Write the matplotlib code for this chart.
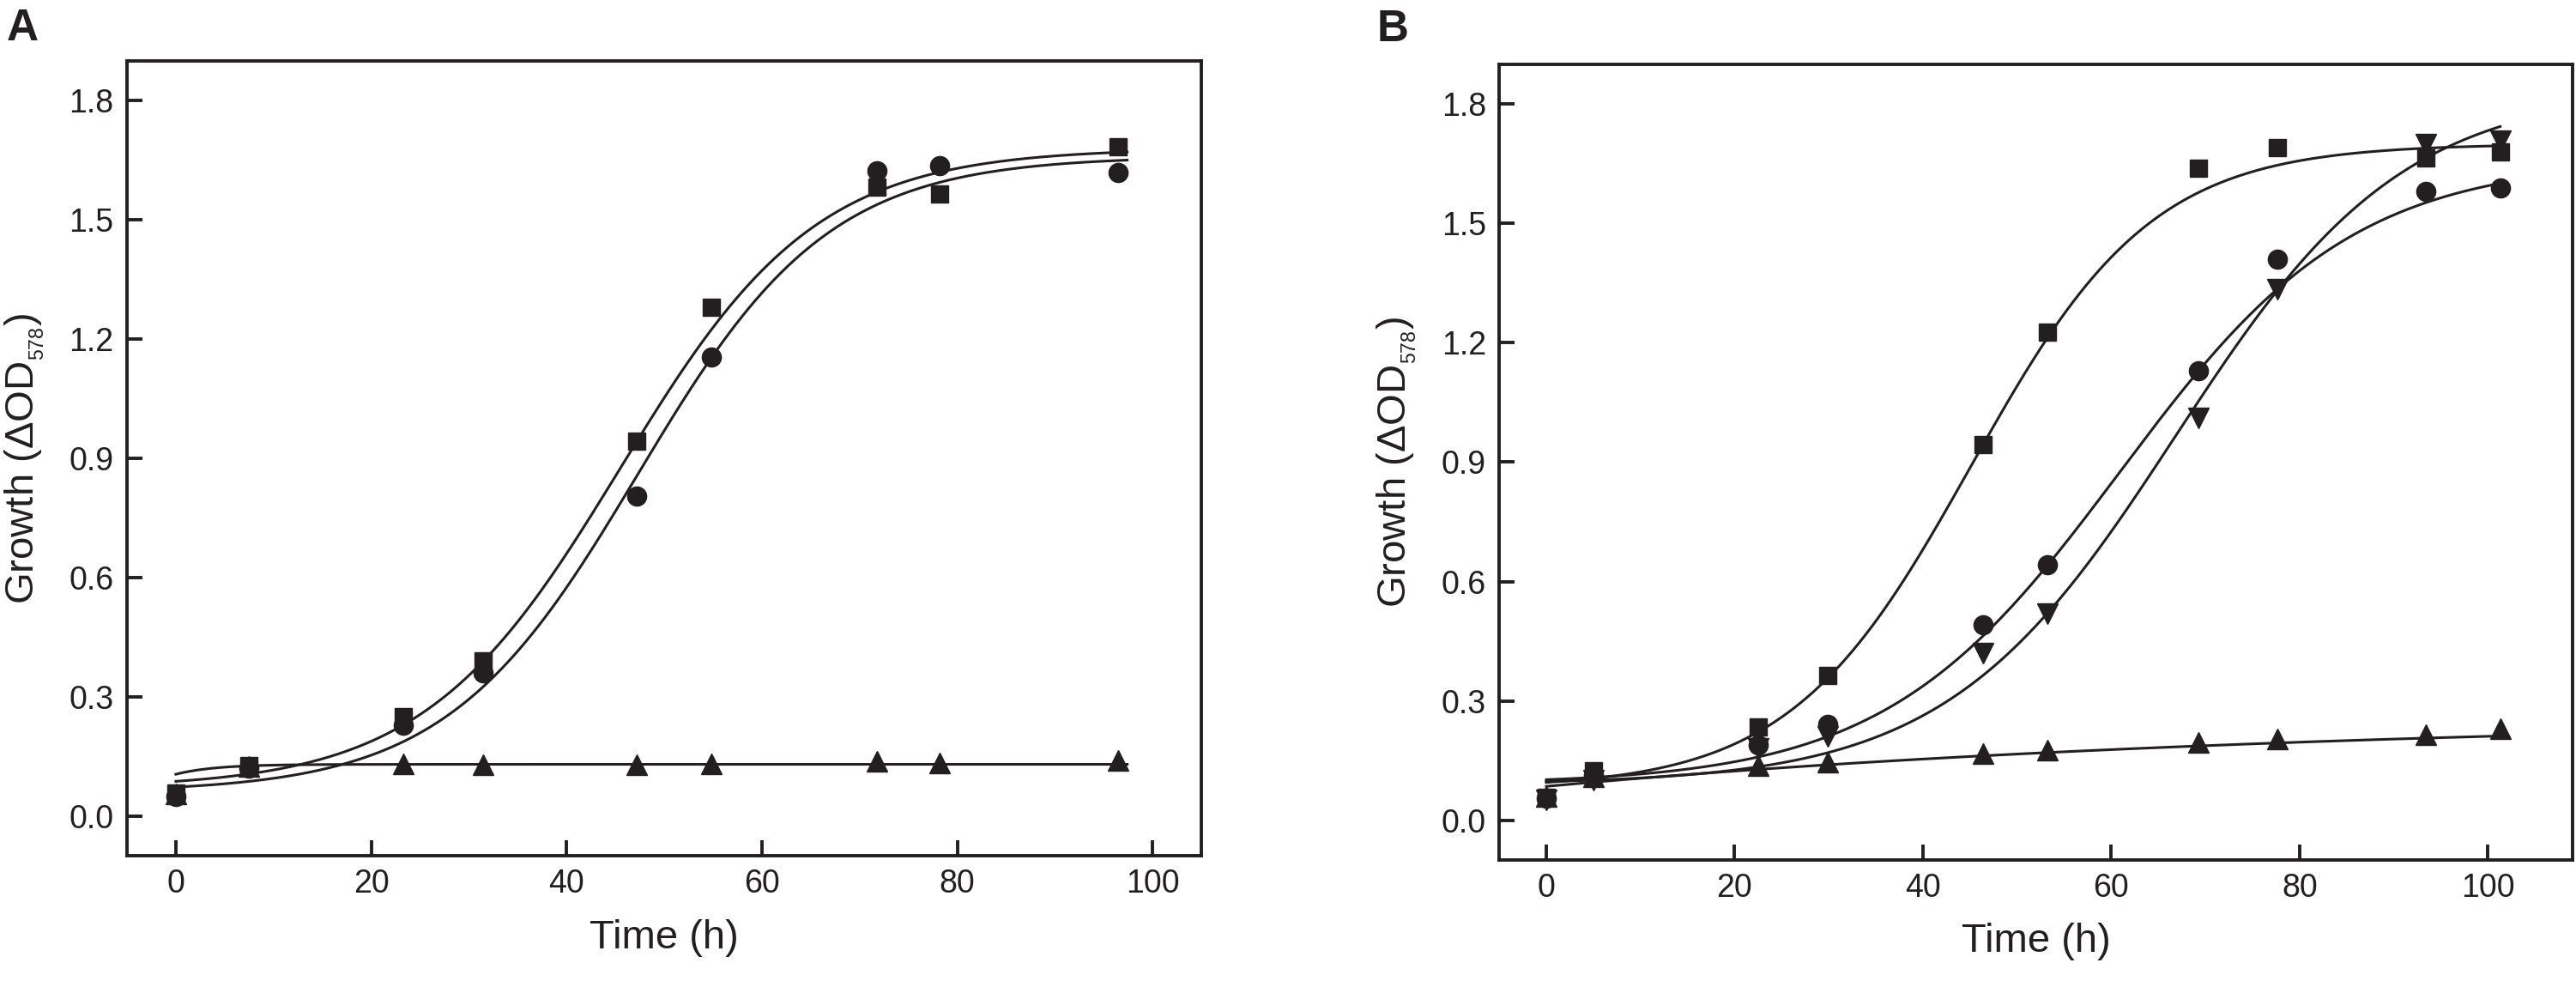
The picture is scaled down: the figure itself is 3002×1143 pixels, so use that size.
import numpy as np
import matplotlib
matplotlib.use('Agg')
import matplotlib.pyplot as plt

plt.rcParams['font.family'] = ['Liberation Sans', 'DejaVu Sans']
plt.rcParams['mathtext.fontset'] = 'custom'
plt.rcParams['mathtext.rm'] = 'Liberation Sans'
plt.rcParams['mathtext.it'] = 'Liberation Sans'

INK = '#231f20'

# ---------------- Panel A data ----------------
time_a = [0, 7.5, 23.3, 31.5, 47.2, 54.8, 71.8, 78.2, 96.5]
square_a = [0.058, 0.126, 0.251, 0.390, 0.944, 1.281, 1.582, 1.565, 1.683]
circle_a = [0.050, 0.120, 0.229, 0.360, 0.804, 1.154, 1.623, 1.637, 1.620]
triangle_a = [0.055, 0.125, 0.131, 0.130, 0.128, 0.131, 0.137, 0.133, 0.140]

# ---------------- Panel B data ----------------
time_b = [0, 5.0, 22.5, 29.9, 46.4, 53.2, 69.3, 77.6, 93.4, 101.3]
square_b = [0.058, 0.124, 0.235, 0.364, 0.945, 1.227, 1.638, 1.690, 1.664, 1.679]
circle_b = [0.055, 0.113, 0.188, 0.240, 0.490, 0.642, 1.130, 1.410, 1.580, 1.590]
tridown_b = [0.050, 0.100, 0.180, 0.210, 0.420, 0.520, 1.010, 1.334, 1.700, 1.707]
triup_b = [0.060, 0.110, 0.137, 0.145, 0.168, 0.176, 0.195, 0.204, 0.215, 0.230]

# Fitted curve parameters (sigmoid: base, amplitude, midpoint, width)
fit_square_a = [0.07, 1.61, 45.5, 10.05]
fit_circle_a = [0.06, 1.60, 47.3, 9.8]
# rise to plateau: base, amplitude, rate
fit_triangle_a = [0.105, 0.025, 0.25]

fit_square_b = [0.08, 1.62, 45.1, 9.64]
fit_circle_b = [0.09, 1.57, 60.9, 12.46]
fit_tridown_b = [0.09, 1.75, 66.81, 12.13]
fit_triup_b = [0.085, 0.18, 0.012]

x_ticks = [0, 20, 40, 60, 80, 100]
y_ticks = [0.0, 0.3, 0.6, 0.9, 1.2, 1.5, 1.8]


def sigmoid(x, p):
    y0, a, x0, b = p
    return y0 + a / (1.0 + np.exp(-(x - x0) / b))


def rise(x, p):
    y0, a, k = p
    return y0 + a * (1.0 - np.exp(-k * x))


fig = plt.figure(figsize=(30.02, 11.43), dpi=100)
axA = fig.add_axes([0.0493, 0.1277, 0.4171, 0.8102])
axB = fig.add_axes([0.5820, 0.1234, 0.4167, 0.8110])

LW = 2.2
MS_SQ = 14.5
MS_CI = 16
MS_TR = 17


def style(ax, xmax):
    ax.set_xlim(-5, xmax)
    ax.set_ylim(-0.1, 1.9)
    ax.set_xticks(x_ticks)
    ax.set_yticks(y_ticks)
    ax.set_xticklabels([str(v) for v in x_ticks])
    ax.set_yticklabels(['%.1f' % v for v in y_ticks])
    for s in ax.spines.values():
        s.set_linewidth(2.8)
        s.set_color(INK)
    ax.tick_params(direction='in', length=13, width=2.8, pad=11,
                   labelsize=27, colors=INK, top=False, right=False)
    ax.set_xlabel('Time (h)', fontsize=34, color=INK, labelpad=16)
    ax.set_ylabel('Growth (ΔOD$_{_{\\mathregular{578}}}$)', fontsize=34,
                  color=INK, labelpad=19)


# Panel A
xa = np.linspace(0, max(time_a) + 0.9, 300)
axA.plot(xa, sigmoid(xa, fit_square_a), color=INK, lw=LW, zorder=2)
axA.plot(xa, sigmoid(xa, fit_circle_a), color=INK, lw=LW, zorder=2)
axA.plot(xa, rise(xa, fit_triangle_a), color=INK, lw=LW, zorder=2)
axA.plot(time_a, square_a, 's', ms=MS_SQ, color=INK, mec=INK, zorder=3)
axA.plot(time_a, circle_a, 'o', ms=MS_CI, color=INK, mec=INK, zorder=3)
axA.plot(time_a, triangle_a, '^', ms=MS_TR, color=INK, mec=INK, zorder=3)
style(axA, 105)

# Panel B
xb = np.linspace(0, max(time_b), 300)
axB.plot(xb, sigmoid(xb, fit_square_b), color=INK, lw=LW, zorder=2)
axB.plot(xb, sigmoid(xb, fit_circle_b), color=INK, lw=LW, zorder=2)
axB.plot(xb, sigmoid(xb, fit_tridown_b), color=INK, lw=LW, zorder=2)
axB.plot(xb, rise(xb, fit_triup_b), color=INK, lw=LW, zorder=2)
axB.plot(time_b, square_b, 's', ms=MS_SQ, color=INK, mec=INK, zorder=3)
axB.plot(time_b, circle_b, 'o', ms=MS_CI, color=INK, mec=INK, zorder=3)
axB.plot(time_b, tridown_b, 'v', ms=MS_TR, color=INK, mec=INK, zorder=3)
axB.plot(time_b, triup_b, '^', ms=MS_TR, color=INK, mec=INK, zorder=3)
style(axB, 109)

fig.text(8 / 3002, 1 - 47 / 1143, 'A', fontsize=37, fontweight='bold',
         color=INK, va='baseline', ha='left')
fig.text(1605 / 3002, 1 - 48 / 1143, 'B', fontsize=37, fontweight='bold',
         color=INK, va='baseline', ha='left')

fig.savefig('out.png', dpi=100, facecolor='white')
